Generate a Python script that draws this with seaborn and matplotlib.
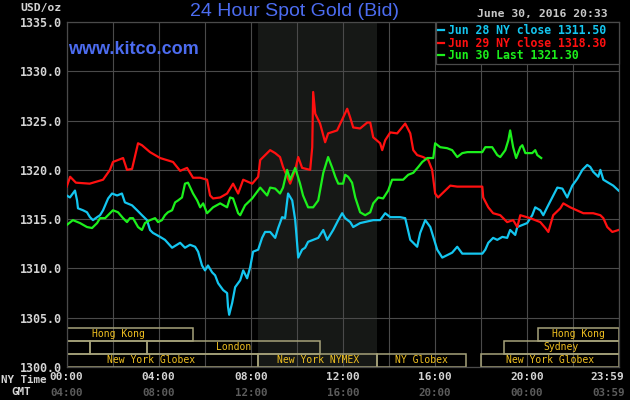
import matplotlib
matplotlib.use("Agg")
import matplotlib.pyplot as plt
import matplotlib.transforms as mtransforms
from matplotlib.ticker import FormatStrFormatter
import numpy as np
import pandas as pd
import seaborn as sns

# --- data: hours after midnight (NY time), price in USD/oz ---
jun28_hours = [0.0, 0.14, 0.36, 0.45, 0.49, 0.71, 0.88, 1.01, 1.14, 1.32,
               1.45, 1.58, 1.80, 1.97, 2.19, 2.40, 2.53, 2.84, 3.06, 3.27,
               3.49, 3.62, 3.75, 4.06, 4.27, 4.58, 4.93, 5.14, 5.36, 5.58,
               5.71, 5.88, 6.01, 6.14, 6.32, 6.45, 6.58, 6.80, 6.97, 7.01,
               7.06, 7.19, 7.32, 7.54, 7.67, 7.84, 7.97, 8.10, 8.32, 8.49,
               8.62, 8.84, 9.06, 9.19, 9.36, 9.49, 9.62, 9.80, 9.93, 10.01,
               10.06, 10.23, 10.36, 10.49, 10.71, 10.93, 11.15, 11.32, 11.58, 11.80,
               11.97, 12.10, 12.32, 12.45, 12.75, 13.32, 13.62, 13.84, 14.06, 14.49,
               14.71, 14.93, 15.06, 15.23, 15.36, 15.58, 15.80, 15.93, 16.10, 16.32,
               16.75, 16.97, 17.19, 18.06, 18.19, 18.32, 18.53, 18.71, 18.93, 19.14,
               19.27, 19.49, 19.58, 20.01, 20.23, 20.36, 20.58, 20.71, 20.88, 21.10,
               21.32, 21.54, 21.75, 21.97, 22.19, 22.41, 22.62, 22.75, 22.88, 23.10,
               23.19, 23.32, 23.75, 23.98]
jun28_prices = [1317.4, 1317.2, 1317.9, 1316.9, 1316.1, 1315.9, 1315.7, 1315.2, 1314.9, 1315.2,
                1315.4, 1315.9, 1317.1, 1317.6, 1317.4, 1317.6, 1316.7, 1316.4, 1315.9, 1315.4,
                1314.9, 1313.9, 1313.6, 1313.2, 1312.9, 1312.1, 1312.6, 1312.1, 1312.4, 1312.2,
                1311.7, 1310.3, 1309.8, 1310.3, 1309.6, 1309.3, 1308.5, 1307.8, 1307.5, 1306.1,
                1305.3, 1306.5, 1308.1, 1308.8, 1309.8, 1309.0, 1310.1, 1311.7, 1311.9, 1313.1,
                1313.7, 1313.7, 1313.1, 1314.1, 1315.2, 1315.1, 1317.6, 1316.9, 1314.9, 1312.6,
                1311.1, 1311.9, 1312.1, 1312.7, 1312.9, 1313.1, 1313.9, 1312.9, 1313.9, 1314.9,
                1315.6, 1315.1, 1314.7, 1314.2, 1314.6, 1314.9, 1314.9, 1315.6, 1315.2, 1315.2,
                1315.1, 1312.9, 1312.6, 1312.2, 1313.6, 1314.9, 1314.2, 1313.2, 1311.9, 1311.1,
                1311.6, 1312.2, 1311.5, 1311.5, 1311.9, 1312.6, 1313.1, 1312.9, 1313.2, 1313.1,
                1313.9, 1313.4, 1314.2, 1314.6, 1315.4, 1316.2, 1315.9, 1315.4, 1316.2, 1317.2,
                1318.2, 1318.1, 1317.2, 1318.4, 1319.1, 1320.0, 1320.5, 1320.3, 1319.8, 1319.3,
                1320.0, 1319.0, 1318.4, 1317.9]

jun29_hours = [0.0, 0.15, 0.4, 1.0, 1.58, 1.88, 2.01, 2.45, 2.62, 2.84,
               3.10, 3.27, 3.62, 4.06, 4.62, 4.93, 5.23, 5.49, 5.80, 6.10,
               6.23, 6.36, 6.67, 6.97, 7.23, 7.45, 7.67, 8.06, 8.32, 8.41,
               8.84, 9.06, 9.27, 9.40, 9.71, 9.93, 10.06, 10.23, 10.58, 10.67,
               10.71, 10.80, 11.01, 11.23, 11.36, 11.75, 12.01, 12.19, 12.32, 12.45,
               12.75, 13.06, 13.19, 13.32, 13.62, 13.71, 13.84, 14.06, 14.36, 14.71,
               14.93, 15.06, 15.23, 15.49, 15.71, 15.88, 16.01, 16.14, 16.36, 16.67,
               16.97, 18.06, 18.10, 18.32, 18.53, 18.84, 19.14, 19.40, 19.58, 19.71,
               20.14, 20.58, 20.80, 20.93, 21.14, 21.45, 21.58, 21.88, 22.45, 22.88,
               23.19, 23.32, 23.49, 23.71, 23.98]
jun29_prices = [1318.3, 1319.3, 1318.7, 1318.6, 1319.0, 1320.0, 1320.8, 1321.2, 1320.0, 1320.1,
                1322.7, 1322.5, 1321.8, 1321.2, 1320.8, 1319.9, 1320.2, 1319.2, 1319.2, 1319.0,
                1317.4, 1317.1, 1317.2, 1317.6, 1318.6, 1317.6, 1319.0, 1318.6, 1319.3, 1321.0,
                1322.0, 1321.7, 1321.3, 1320.3, 1318.6, 1320.0, 1321.3, 1320.2, 1320.0, 1322.3,
                1327.9, 1325.7, 1324.7, 1322.8, 1323.7, 1324.0, 1325.3, 1326.2, 1325.3, 1324.3,
                1324.2, 1324.8, 1324.8, 1323.3, 1322.7, 1322.0, 1323.0, 1323.8, 1323.7, 1324.7,
                1323.7, 1322.0, 1321.5, 1321.3, 1321.0, 1320.0, 1317.6, 1317.2, 1317.7, 1318.4,
                1318.3, 1318.3, 1317.2, 1316.2, 1315.6, 1315.4, 1314.7, 1314.9, 1314.2, 1315.4,
                1315.1, 1314.7, 1314.1, 1313.7, 1315.4, 1316.1, 1316.6, 1316.2, 1315.6, 1315.6,
                1315.4, 1315.1, 1314.2, 1313.7, 1313.9]

jun30_hours = [0.0, 0.27, 0.58, 0.88, 1.10, 1.32, 1.45, 1.67, 1.88, 2.01,
               2.23, 2.45, 2.62, 2.75, 2.88, 3.10, 3.27, 3.40, 3.62, 3.84,
               3.97, 4.14, 4.27, 4.40, 4.58, 4.71, 4.84, 5.01, 5.14, 5.27,
               5.49, 5.67, 5.80, 5.93, 6.10, 6.36, 6.67, 6.97, 7.10, 7.23,
               7.45, 7.54, 7.75, 8.06, 8.41, 8.71, 8.84, 9.06, 9.27, 9.40,
               9.58, 9.71, 9.93, 10.14, 10.27, 10.49, 10.71, 10.93, 11.15, 11.36,
               11.54, 11.67, 11.80, 12.01, 12.10, 12.23, 12.40, 12.54, 12.75, 12.97,
               13.19, 13.32, 13.54, 13.75, 13.97, 14.14, 14.62, 14.84, 15.06, 15.28,
               15.45, 15.67, 15.93, 16.01, 16.23, 16.53, 16.75, 16.97, 17.19, 17.41,
               18.06, 18.19, 18.49, 18.71, 18.84, 19.06, 19.19, 19.27, 19.40, 19.53,
               19.71, 19.80, 19.93, 20.23, 20.36, 20.45, 20.62]
jun30_prices = [1314.4, 1314.9, 1314.6, 1314.2, 1314.1, 1314.6, 1315.1, 1315.1, 1315.6, 1315.9,
                1315.7, 1315.1, 1314.7, 1315.1, 1315.1, 1314.2, 1313.9, 1314.6, 1314.9, 1315.1,
                1314.7, 1314.9, 1315.4, 1315.7, 1315.9, 1316.7, 1316.9, 1317.2, 1318.6, 1318.7,
                1317.6, 1316.9, 1316.2, 1316.6, 1315.6, 1316.2, 1316.6, 1316.2, 1317.2, 1317.1,
                1315.6, 1315.4, 1316.4, 1317.1, 1318.2, 1317.4, 1318.2, 1318.1, 1317.6, 1318.2,
                1320.0, 1319.0, 1320.2, 1318.6, 1317.4, 1316.2, 1316.2, 1316.9, 1319.7, 1321.3,
                1320.2, 1319.3, 1318.6, 1318.6, 1319.5, 1319.3, 1318.7, 1317.2, 1315.7, 1315.4,
                1315.7, 1316.6, 1317.2, 1317.1, 1317.9, 1319.0, 1319.0, 1319.5, 1319.7, 1320.3,
                1320.8, 1321.2, 1321.2, 1322.7, 1322.3, 1322.2, 1322.0, 1321.3, 1321.7, 1321.8,
                1321.8, 1322.3, 1322.3, 1321.5, 1321.3, 1322.0, 1323.0, 1324.0, 1322.3, 1321.2,
                1322.3, 1322.5, 1321.7, 1321.7, 1322.0, 1321.5, 1321.2]

series_labels = ["Jun 28 NY close 1311.50", "Jun 29 NY close 1318.30", "Jun 30 Last 1321.30"]
series_colors = ["#14c6f0", "#ff1010", "#1cf01c"]

# trading sessions (start/end hour, row 0 = bottom)
session_names = ["Hong Kong", "Hong Kong", "", "", "London", "Sydney",
                 "New York Globex", "New York NYMEX", "NY Globex", "New York Globex"]
session_starts = [-1, 20.5, 0, 1, 3.5, 19, -1, 8.33, 13.5, 18]
session_ends = [5.5, 24, 1, 3.5, 11, 24, 8.33, 13.5, 17.35, 24]
session_rows = [2, 2, 1, 1, 1, 1, 0, 0, 0, 0]
nymex_open, nymex_close = 8.33, 13.5

ny_ticks = [0, 4, 8, 12, 16, 20, 23.98]
ny_labels = ["00:00", "04:00", "08:00", "12:00", "16:00", "20:00", "23:59"]
gmt_labels = ["04:00", "08:00", "12:00", "16:00", "20:00", "00:00", "03:59"]

# --- build long table ---
frames = []
for lab, h, p in zip(series_labels,
                     [jun28_hours, jun29_hours, jun30_hours],
                     [jun28_prices, jun29_prices, jun30_prices]):
    frames.append(pd.DataFrame({"hour": h, "price": p, "series": lab}))
df = pd.concat(frames, ignore_index=True)

mono = "DejaVu Sans Mono"
grid_col = "#4a4a4a"
blue = "#4c6cf0"

fig = plt.figure(figsize=(6.3, 4.0), dpi=100, facecolor="black")
ax = fig.add_axes([66.7 / 630, 33 / 400, 552.3 / 630, 345 / 400])
ax.set_facecolor("black")

sns.lineplot(data=df, x="hour", y="price", hue="series", hue_order=series_labels,
             palette=dict(zip(series_labels, series_colors)), estimator=None,
             sort=False, lw=1.6, legend=False, ax=ax, zorder=3)
line_handles = list(ax.get_lines()[:3])

# NYMEX shaded window
ax.axvspan(nymex_open, nymex_close, color="#161816", zorder=0.2, lw=0)

# session boxes
row_h = 1.32
starts = np.array(session_starts)
widths = np.array(session_ends) - starts
bottoms = 1300 + np.array(session_rows) * row_h
ax.bar(starts, row_h, width=widths, bottom=bottoms, align="edge",
       facecolor="none", edgecolor="#a6a27a", lw=1.1, zorder=2)
for name, s, e, b in zip(session_names, starts, session_ends, bottoms):
    if name:
        ax.text((s + e) / 2, b + row_h / 2, name, ha="center", va="center",
                color="#f0c020", family=mono, fontsize=7, zorder=4, clip_on=True)

ax.set_xlim(0, 24)
ax.set_ylim(1300, 1335)

# grid
ax.set_axisbelow(True)
ax.set_yticks(np.arange(1300, 1336, 5))
ax.yaxis.set_major_formatter(FormatStrFormatter("%.1f"))
ax.set_xticks(ny_ticks)
ax.set_xticklabels(ny_labels)
ax.set_xticks(np.arange(0, 24, 2), minor=True)
ax.grid(True, which="both", color=grid_col, lw=0.8)
for sp in ax.spines.values():
    sp.set_color(grid_col)
    sp.set_linewidth(0.9)

ax.tick_params(axis="both", which="both", length=0)
ax.tick_params(axis="x", pad=3.5, labelcolor="#d4d4d4", labelsize=8.0)
ax.tick_params(axis="y", pad=3.5, labelcolor="#d4d4d4", labelsize=8.4)
for t in ax.get_xticklabels() + ax.get_yticklabels():
    t.set_family(mono)
    t.set_weight("bold")
last = ax.get_xticklabels()[-1]
last.set_ha("right")
shift = mtransforms.ScaledTranslation(6 / 100, 0, fig.dpi_scale_trans)
last.set_transform(last.get_transform() + shift)

# GMT row
xtrans = ax.get_xaxis_transform()
for i, (t, lab) in enumerate(zip(ny_ticks, gmt_labels)):
    if i == len(ny_ticks) - 1:
        ax.text(t, -25.5 / 345, lab, transform=xtrans + shift, ha="right", va="center",
                color="#5c5c5c", family=mono, weight="bold", fontsize=7.8, clip_on=False)
    else:
        ax.text(t, -25.5 / 345, lab, transform=xtrans, ha="center", va="center",
                color="#5c5c5c", family=mono, weight="bold", fontsize=7.8, clip_on=False)

# legend, stretched to the reference frame width
leg_x0 = (436 - 66.7) / 552.3
leg = ax.legend(line_handles, series_labels, loc="upper left",
                bbox_to_anchor=(leg_x0, 0.0, 1 - leg_x0, 1.0), mode="expand",
                borderaxespad=0.0, frameon=True, facecolor="black", edgecolor=grid_col,
                fancybox=False, framealpha=1, handlelength=0.5, handletextpad=0.35,
                labelspacing=-0.05, borderpad=0.2, labelcolor="linecolor",
                prop={"family": mono, "weight": "bold", "size": 8.3})
leg.get_frame().set_linewidth(0.9)
leg.set_zorder(5)

# header texts
fig.text(294 / 630, 1 - 12 / 400, "24 Hour Spot Gold (Bid)", ha="center", va="center",
         color=blue, fontsize=14, family="Liberation Sans")
fig.text(68 / 630, 1 - 49 / 400, "www.kitco.com", ha="left", va="center",
         color=blue, fontsize=13, weight="bold", family="Liberation Sans")
fig.text(608 / 630, 1 - 14 / 400, "June 30, 2016 20:33", ha="right", va="center",
         color="#c8c8c8", fontsize=8.2, family=mono, weight="bold")
fig.text(62 / 630, 1 - 8 / 400, "USD/oz", ha="right", va="center",
         color="#d4d4d4", fontsize=8.2, family=mono, weight="bold")
fig.text(24 / 630, 1 - 380 / 400, "NY Time", ha="center", va="center",
         color="#d4d4d4", fontsize=7.8, family=mono, weight="bold")
fig.text(21 / 630, 1 - 392 / 400, "GMT", ha="center", va="center",
         color="#d4d4d4", fontsize=7.8, family=mono, weight="bold")

fig.savefig("out.png", dpi=100, facecolor="black")
